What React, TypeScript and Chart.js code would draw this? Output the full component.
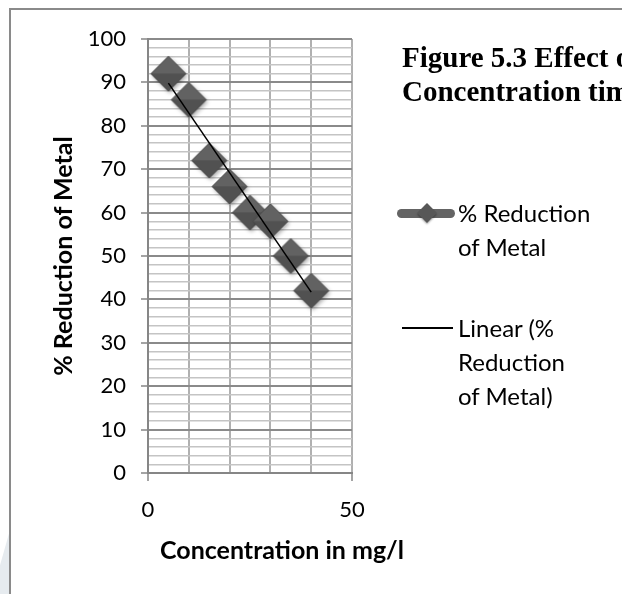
import React, { useEffect, useRef } from 'react';
import { Chart, registerables } from 'chart.js';

Chart.register(...registerables);

// ---- data ----
const concentration = [5, 10, 15, 20, 25, 30, 35, 40];
const reduction = [92, 86, 72, 66, 60, 58, 50, 42];
const xLabeledTicks = [0, 50];
const yLabelEvery = 10;
const seriesName = '% Reduction of Metal';
const trendName = 'Linear (% Reduction of Metal)';
const titleLines = ['Figure 5.3 Effect of', 'Concentration time'];
const xTitle = 'Concentration in mg/l';
const yTitle = '% Reduction of Metal';

function linearFit(xs: number[], ys: number[]) {
  const n = xs.length;
  const mx = xs.reduce((a, b) => a + b, 0) / n;
  const my = ys.reduce((a, b) => a + b, 0) / n;
  let sxy = 0;
  let sxx = 0;
  for (let i = 0; i < n; i++) {
    sxy += (xs[i] - mx) * (ys[i] - my);
    sxx += (xs[i] - mx) * (xs[i] - mx);
  }
  const slope = sxy / sxx;
  return { slope, intercept: my - slope * mx };
}

function makeDiamond(r: number) {
  const S = Math.ceil(r * 2 + 12);
  const c = document.createElement('canvas');
  c.width = S;
  c.height = S;
  const ctx = c.getContext('2d')!;
  const cx = S / 2;
  const cy = S / 2;
  const path = () => {
    ctx.beginPath();
    ctx.moveTo(cx - r, cy);
    ctx.lineTo(cx, cy - r);
    ctx.lineTo(cx + r, cy);
    ctx.lineTo(cx, cy + r);
    ctx.closePath();
  };
  ctx.save();
  ctx.shadowColor = 'rgba(0,0,0,0.35)';
  ctx.shadowBlur = 4;
  ctx.shadowOffsetX = 1.5;
  ctx.shadowOffsetY = 2;
  path();
  ctx.fillStyle = '#575757';
  ctx.fill();
  ctx.restore();
  ctx.beginPath();
  ctx.moveTo(cx - r, cy);
  ctx.lineTo(cx, cy - r);
  ctx.lineTo(cx + r, cy);
  ctx.closePath();
  ctx.fillStyle = '#626262';
  ctx.fill();
  ctx.beginPath();
  ctx.moveTo(cx - r, cy);
  ctx.lineTo(cx, cy + r);
  ctx.lineTo(cx + r, cy);
  ctx.closePath();
  ctx.fillStyle = '#515151';
  ctx.fill();
  path();
  ctx.strokeStyle = 'rgba(70,70,70,0.8)';
  ctx.lineWidth = 1;
  ctx.stroke();
  return c;
}

export default function App() {
  const ref = useRef<HTMLCanvasElement>(null);

  useEffect(() => {
    if (!ref.current) return;
    const fit = linearFit(concentration, reduction);
    const xMin = Math.min(...concentration);
    const xMax = Math.max(...concentration);
    const trend = [
      { x: xMin, y: fit.intercept + fit.slope * xMin },
      { x: xMax, y: fit.intercept + fit.slope * xMax },
    ];
    const points = concentration.map((x, i) => ({ x, y: reduction[i] }));
    const diamond = makeDiamond(17.5);
    const tickFont = { family: 'Lato', size: 22 };

    const chart = new Chart(ref.current, {
      type: 'scatter',
      data: {
        datasets: [
          {
            type: 'line',
            label: trendName,
            data: trend,
            borderColor: '#000000',
            borderWidth: 1.5,
            pointRadius: 0,
            showLine: true,
            fill: false,
            order: 0,
          } as any,
          {
            label: seriesName,
            data: points,
            pointStyle: diamond as any,
            pointRadius: 18,
            showLine: false,
            order: 1,
          },
        ],
      },
      options: {
        animation: false,
        responsive: false,
        devicePixelRatio: 1,
        layout: { padding: { left: 0, right: 270, top: 39, bottom: 0 } },
        plugins: {
          legend: { display: false },
          tooltip: { enabled: false },
          title: { display: false },
        },
        scales: {
          x: {
            type: 'linear',
            min: 0,
            max: 50,
            afterFit: (s: any) => {
              s.height = 121;
            },
            ticks: {
              stepSize: 10,
              autoSkip: false,
              maxRotation: 0,
              padding: 16,
              color: '#000000',
              font: tickFont,
              callback: (v: any) => (xLabeledTicks.includes(Number(v)) ? String(v) : ''),
            },
            grid: {
              color: '#b0b0b0',
              lineWidth: 2,
              tickLength: 8,
              tickWidth: 1.5,
              tickColor: (c: any) =>
                c.tick && xLabeledTicks.includes(c.tick.value) ? '#868686' : 'rgba(0,0,0,0)',
            },
            border: { color: '#868686', width: 2 },
          },
          y: {
            type: 'linear',
            min: 0,
            max: 100,
            afterFit: (s: any) => {
              s.width = 148;
            },
            ticks: {
              stepSize: 2,
              autoSkip: false,
              padding: 15,
              color: '#000000',
              font: tickFont,
              callback: (v: any) => (Number(v) % yLabelEvery === 0 ? String(v) : ''),
            },
            grid: {
              color: (c: any) =>
                c.tick && c.tick.value % yLabelEvery === 0 ? '#8a8a8a' : '#c4c4c4',
              lineWidth: (c: any) => (c.tick && c.tick.value % yLabelEvery === 0 ? 2 : 1.5),
              tickLength: 7,
              tickWidth: 1.5,
              tickColor: (c: any) =>
                c.tick && c.tick.value % yLabelEvery === 0 ? '#868686' : 'rgba(0,0,0,0)',
            },
            border: { color: '#868686', width: 2 },
          },
        },
      },
    });
    return () => chart.destroy();
  }, []);

  const legendText: React.CSSProperties = {
    position: 'absolute',
    left: 458,
    fontFamily: 'Lato',
    fontSize: 24,
    lineHeight: '34px',
    color: '#000',
    whiteSpace: 'nowrap',
  };

  return (
    <div
      style={{
        position: 'fixed',
        left: 0,
        top: 0,
        width: 622,
        height: 594,
        overflow: 'hidden',
        background: '#ffffff',
      }}
    >
      <div
        style={{
          position: 'absolute',
          left: 0,
          top: 530,
          width: 10,
          height: 64,
          background: '#e6ebef',
          clipPath: 'polygon(100% 0, 100% 100%, 0 100%, 0 55%)',
        }}
      />
      <div
        style={{
          position: 'absolute',
          left: 9,
          top: 8,
          width: 640,
          height: 640,
          borderLeft: '2px solid #8a8a8a',
          borderTop: '2px solid #8a8a8a',
        }}
      />
      <canvas
        ref={ref}
        width={622}
        height={594}
        style={{ position: 'absolute', left: 0, top: 0, width: 622, height: 594 }}
      />
      <div
        style={{
          position: 'absolute',
          left: 402,
          top: 40,
          fontFamily: '"Liberation Serif", "Times New Roman", serif',
          fontWeight: 'bold',
          fontSize: 29,
          lineHeight: '34px',
          whiteSpace: 'nowrap',
          color: '#000',
        }}
      >
        {titleLines.map((t, i) => (
          <div key={i}>{t}</div>
        ))}
      </div>
      {/* legend */}
      <div
        style={{
          position: 'absolute',
          left: 397,
          top: 209,
          width: 58,
          height: 9,
          borderRadius: 4.5,
          background: '#646464',
        }}
      />
      <div
        style={{
          position: 'absolute',
          left: 420,
          top: 206,
          width: 14,
          height: 14,
          background: '#575757',
          transform: 'rotate(45deg)',
          boxShadow: '1px 1px 2px rgba(0,0,0,0.35)',
        }}
      />
      <div style={{ ...legendText, top: 196 }}>
        <div>% Reduction</div>
        <div>of Metal</div>
      </div>
      <div
        style={{
          position: 'absolute',
          left: 402,
          top: 327,
          width: 51,
          height: 1.5,
          background: '#000',
        }}
      />
      <div style={{ ...legendText, top: 311 }}>
        <div>Linear (%</div>
        <div>Reduction</div>
        <div>of Metal)</div>
      </div>
      {/* axis titles */}
      <div
        style={{
          position: 'absolute',
          left: 82,
          top: 534,
          width: 400,
          textAlign: 'center',
          fontFamily: 'Lato',
          fontWeight: 'bold',
          fontSize: 25,
          lineHeight: '30px',
          whiteSpace: 'nowrap',
          color: '#000',
        }}
      >
        {xTitle}
      </div>
      <div
        style={{
          position: 'absolute',
          left: 62 - 150,
          top: 256 - 15,
          width: 300,
          height: 30,
          textAlign: 'center',
          fontFamily: 'Lato',
          fontWeight: 'bold',
          fontSize: 25,
          lineHeight: '30px',
          whiteSpace: 'nowrap',
          color: '#000',
          transform: 'rotate(-90deg)',
          transformOrigin: '50% 50%',
        }}
      >
        {yTitle}
      </div>
    </div>
  );
}
